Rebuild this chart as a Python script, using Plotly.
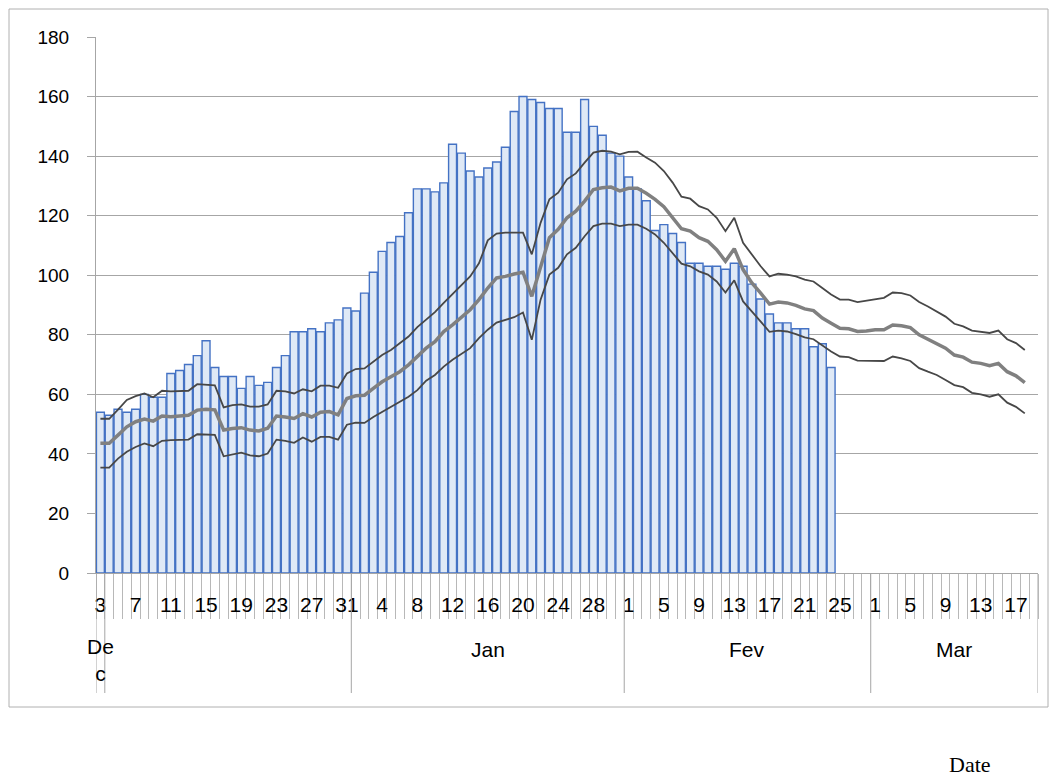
import pandas as pd
import plotly.graph_objects as go

# ---------------- data ----------------
start_date = "2020-12-03"
n_slots = 107  # Dec 3 .. Mar 19
month_names = {12: "De<br>c", 1: "Jan", 2: "Fev", 3: "Mar"}

bars = [54, 53, 55, 54, 55, 60, 59, 59, 67, 68, 70, 73, 78, 69, 66, 66, 62, 66, 63, 64,
        69, 73, 81, 81, 82, 81, 84, 85,
        89, 88, 94, 101, 108, 111, 113, 121, 129, 129, 128, 131, 144, 141, 135, 133, 136, 138, 143,
        155, 160, 159, 158, 156, 156, 148, 148, 159, 150, 147, 141, 140,
        133, 129, 125, 115, 117, 114, 111, 104, 104, 103, 103, 102, 104, 103, 97, 92, 87,
        84, 84, 82, 82, 76, 77, 69]

upper = [51.8, 51.8, 54.9, 58.1, 59.4, 60.3, 59.0, 61.2, 61.0, 61.0, 61.2, 63.4, 63.2, 63.0,
         55.6, 56.4, 56.6, 55.9, 55.9, 56.6, 61.2, 61.0, 60.3, 61.7, 61.0, 62.9, 62.9, 62.2, 67.0, 68.5,
         68.7, 71.0, 73.2, 74.9, 77.2, 79.4, 82.6, 85.0, 87.6, 90.7, 93.7, 96.8, 99.6, 104.0, 111.7,
         114.0, 114.3, 114.3, 114.3, 107.0, 117.6, 125.5, 127.7, 132.2, 134.2, 137.8, 141.2, 141.8,
         141.5, 140.6, 141.4, 141.5,
         139.5, 137.8, 135.0, 131.1, 126.4, 125.7, 123.2, 122.1, 119.3, 114.8, 119.3, 110.9, 107.0,
         103.0, 99.6,
         100.5, 100.2, 99.6, 98.5, 97.9, 95.7, 93.5, 91.8, 91.8, 91.0, 91.4, 92.0,
         92.4, 94.2, 94.0, 93.2, 91.0, 89.5, 87.8, 86.1, 83.7, 82.8, 81.4, 81.1, 80.6, 81.4, 78.5,
         77.2, 74.9]

middle = [43.6, 43.6, 46.3, 49.1, 50.8, 51.7, 51.0, 52.7, 52.5, 52.7, 53.0, 54.7, 55.0, 54.8,
          48.0, 48.5, 48.8, 48.0, 47.7, 48.6, 52.7, 52.4, 51.9, 53.5, 52.4, 54.0, 54.2, 53.1, 58.6, 59.5,
          59.7, 62.0, 64.2, 65.9, 67.6, 69.9, 72.7, 75.5, 77.7, 81.1, 83.3, 85.9, 88.4, 91.8, 95.7,
          99.1, 99.6, 100.4, 101.0, 92.9, 103.0, 112.6, 115.4, 119.3, 121.5, 124.9, 128.8, 129.4,
          129.6, 128.3, 129.2, 129.2,
          127.5, 125.5, 123.0, 119.3, 115.6, 114.8, 112.6, 111.4, 108.6, 104.7, 108.9, 101.9, 97.4,
          94.0, 90.3,
          91.0, 90.7, 89.9, 88.7, 88.1, 85.6, 83.9, 82.2, 82.0, 81.1, 81.3, 81.7,
          81.7, 83.3, 83.0, 82.4, 80.0, 78.6, 77.2, 75.5, 73.2, 72.5, 70.8, 70.4, 69.6, 70.4, 67.6,
          66.2, 63.9]

lower = [35.4, 35.4, 38.4, 40.7, 42.3, 43.5, 42.6, 44.4, 44.6, 44.6, 44.8, 46.6, 46.5, 46.4,
         39.2, 39.9, 40.4, 39.5, 39.2, 40.1, 44.8, 44.4, 43.7, 45.5, 44.1, 45.7, 45.7, 44.8, 49.8, 50.5,
         50.4, 52.4, 54.1, 55.8, 57.3, 59.2, 61.4, 64.6, 66.5, 69.3, 71.6, 73.6, 75.5, 78.9, 81.7,
         84.1, 85.0, 85.9, 87.5, 78.3, 91.8, 100.2, 102.5, 107.0, 109.2, 113.1, 116.5, 117.3,
         117.3, 116.5, 117.0, 117.0,
         115.6, 113.7, 110.9, 107.5, 103.9, 103.0, 101.3, 100.2, 97.9, 94.2, 98.3, 91.2, 87.8,
         84.6, 81.0,
         81.4, 81.1, 80.2, 79.1, 78.5, 76.3, 74.4, 72.7, 72.5, 71.3, 71.2, 71.3,
         71.2, 72.7, 72.1, 71.2, 68.8, 67.6, 66.5, 64.8, 63.1, 62.4, 60.5, 60.0, 59.2, 60.0, 57.2,
         55.8, 53.6]

y_ticks = list(range(0, 181, 20))

# ---------------- derived ----------------
dates = pd.date_range(start_date, periods=n_slots, freq="D")
idx = list(range(n_slots))
tick_idx = idx[::4]
tick_txt = [str(dates[i].day) for i in tick_idx]

# month groups
groups = []
cur = None
for i, d in enumerate(dates):
    if d.month != cur:
        groups.append([d.month, i, i])
        cur = d.month
    else:
        groups[-1][2] = i

fig = go.Figure()
fig.add_trace(go.Bar(
    x=idx[:len(bars)], y=bars, width=0.9,
    marker=dict(color="#dfe9f6", line=dict(color="#4472c4", width=1.4)),
    showlegend=False, hoverinfo="skip"))
fig.add_trace(go.Scatter(x=idx[:len(upper)], y=upper, mode="lines",
                         line=dict(color="#474747", width=1.8), showlegend=False))
fig.add_trace(go.Scatter(x=idx[:len(lower)], y=lower, mode="lines",
                         line=dict(color="#474747", width=1.8), showlegend=False))
fig.add_trace(go.Scatter(x=idx[:len(middle)], y=middle, mode="lines",
                         line=dict(color="#808080", width=3.5), showlegend=False))

grid_col = "#a6a6a6"
L, R, T, B = 96, 22, 37, 207
W, H = 1060, 780
pw, ph = W - L - R, H - T - B

def px_x(p):
    return (p - L) / pw

def px_y(p):
    return (H - B - p) / ph

shapes = []
# long separators: plot edges and month boundaries (plus the narrow Dec group edge)
seps = [-0.5, 0.5] + [g[1] - 0.5 for g in groups[1:]] + [n_slots - 0.5]
for s in seps:
    shapes.append(dict(type="line", xref="x", yref="paper", x0=s, x1=s,
                       y0=0, y1=px_y(693), line=dict(color=grid_col, width=1)))
# outer border
shapes.append(dict(type="rect", xref="paper", yref="paper",
                   x0=px_x(9), x1=px_x(1048), y0=px_y(707), y1=px_y(9),
                   line=dict(color="#b0b0b0", width=1)))

annotations = []
for m, a, b in groups:
    if m == 12:
        xc = a
        annotations.append(dict(x=xc, y=px_y(660), xref="x", yref="paper", text=month_names[m],
                                showarrow=False, font=dict(size=21, color="black",
                                                           family="Liberation Sans, Arial"),
                                xanchor="center", yanchor="middle"))
    else:
        xc = (a + b) / 2
        annotations.append(dict(x=xc, y=px_y(650), xref="x", yref="paper", text=month_names[m],
                                showarrow=False, font=dict(size=21, color="black",
                                                           family="Liberation Sans, Arial"),
                                xanchor="center", yanchor="middle"))
annotations.append(dict(x=px_x(970), y=px_y(764), xref="paper", yref="paper", text="Date",
                        showarrow=False, font=dict(size=22, color="black",
                                                   family="Liberation Serif, Times New Roman"),
                        xanchor="center", yanchor="middle"))

fig.update_layout(
    width=W, height=H,
    margin=dict(l=L, r=R, t=T, b=B),
    paper_bgcolor="white", plot_bgcolor="white",
    bargap=0.05,
    font=dict(family="Liberation Sans, Arial", color="black"),
    shapes=shapes, annotations=annotations,
    xaxis=dict(range=[-0.5, n_slots - 0.5], tickmode="array", tickvals=tick_idx, ticktext=tick_txt,
               ticks="", showgrid=False, zeroline=False, showline=True, linecolor=grid_col,
               tickfont=dict(size=21), ticklabelstandoff=13,
               minor=dict(ticks="outside", ticklen=45, tickmode="linear", tick0=-0.5, dtick=1,
                          tickcolor="#b8b8b8", tickwidth=1, showgrid=False)),
    yaxis=dict(range=[0, 180], tickmode="array", tickvals=y_ticks, showgrid=True,
               gridcolor=grid_col, gridwidth=1, zeroline=False, showline=True, linecolor=grid_col,
               ticks="outside", ticklen=8, tickcolor=grid_col, tickfont=dict(size=19),
               ticklabelstandoff=14),
)

fig.write_html("out.html", config={"displayModeBar": False},
               post_script="document.body.style.margin='0';document.body.style.overflow='hidden';")
